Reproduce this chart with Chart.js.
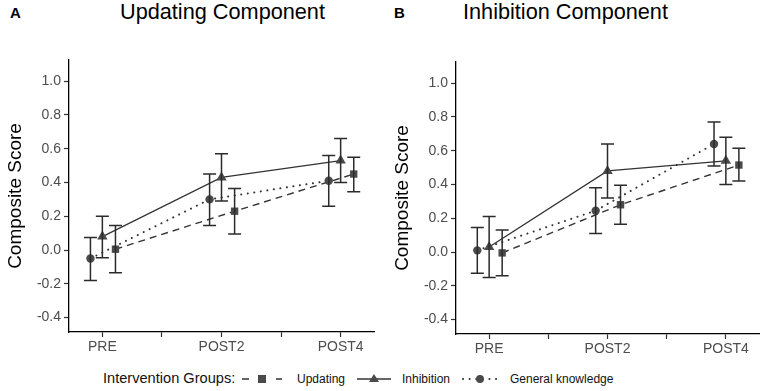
<!DOCTYPE html>
<html>
<head>
<meta charset="utf-8">
<script src="https://cdn.jsdelivr.net/npm/chart.js@4/dist/chart.umd.min.js"></script>
<style>
  body { margin: 0; background: #fff; font-family: "Liberation Sans", Arial, sans-serif; }
  #page { position: relative; width: 765px; height: 391px; overflow: hidden; }
  .box { position: absolute; }
  .lbl { position: absolute; line-height: 1; color: #000; white-space: nowrap; }
</style>
</head>
<body>
<div id="page">
  <div class="lbl" style="left:10px;top:5px;font-size:15px;font-weight:bold;">A</div>
  <div class="lbl" style="left:120px;top:1px;font-size:21.7px;">Updating Component</div>
  <div class="lbl" style="left:394px;top:5px;font-size:15px;font-weight:bold;">B</div>
  <div class="lbl" style="left:463px;top:1px;font-size:21.7px;">Inhibition Component</div>

  <div class="box" style="left:0;top:0;width:380px;height:355px;"><canvas id="chartA"></canvas></div>
  <div class="box" style="left:387px;top:2px;width:378px;height:355px;"><canvas id="chartB"></canvas></div>

  <div class="lbl" style="left:103px;top:371px;font-size:14.6px;color:#111;">Intervention Groups:</div>
  <svg class="box" style="left:240px;top:372px;" width="44" height="14">
    <line x1="2" y1="7" x2="42" y2="7" stroke="#333" stroke-width="1.4" stroke-dasharray="7 10"/>
    <rect x="18" y="3" width="8" height="8" fill="#4a4a4a"/>
  </svg>
  <div class="lbl" style="left:297px;top:373px;font-size:12px;color:#111;">Updating</div>
  <svg class="box" style="left:355px;top:372px;" width="38" height="14">
    <line x1="2" y1="7" x2="36" y2="7" stroke="#333" stroke-width="1.4"/>
    <polygon points="19,2 24,10 14,10" fill="#4a4a4a"/>
  </svg>
  <div class="lbl" style="left:402px;top:373px;font-size:12px;color:#111;">Inhibition</div>
  <svg class="box" style="left:460px;top:372px;" width="40" height="14">
    <line x1="3" y1="7" x2="38" y2="7" stroke="#333" stroke-width="2" stroke-dasharray="0.1 6.5" stroke-linecap="round"/>
    <circle cx="20" cy="7" r="4" fill="#4a4a4a"/>
  </svg>
  <div class="lbl" style="left:510px;top:373px;font-size:12px;color:#111;">General knowledge</div>
</div>

<script>
// categories and axis ticks
const categories = ['PRE', 'POST2', 'POST4'];
const yTicks = [-0.4, -0.2, 0.0, 0.2, 0.4, 0.6, 0.8, 1.0];
const xTicks = [1, 1.5, 2, 2.5, 3];

// Panel A - Updating Component (mean, lower, upper)
const updatingA = [0.005, 0.23, 0.45];
const updatingLowA = [-0.135, 0.095, 0.345];
const updatingHighA = [0.145, 0.365, 0.55];
const inhibitionA = [0.08, 0.43, 0.53];
const inhibitionLowA = [-0.045, 0.29, 0.40];
const inhibitionHighA = [0.20, 0.57, 0.66];
const generalA = [-0.05, 0.30, 0.41];
const generalLowA = [-0.18, 0.145, 0.26];
const generalHighA = [0.075, 0.45, 0.56];

// Panel B - Inhibition Component
const updatingB = [-0.005, 0.28, 0.515];
const updatingLowB = [-0.14, 0.165, 0.42];
const updatingHighB = [0.13, 0.395, 0.615];
const inhibitionB = [0.03, 0.48, 0.54];
const inhibitionLowB = [-0.15, 0.32, 0.40];
const inhibitionHighB = [0.21, 0.64, 0.68];
const generalB = [0.01, 0.245, 0.64];
const generalLowB = [-0.125, 0.11, 0.51];
const generalHighB = [0.145, 0.38, 0.77];

const lineColor = '#333333';
const markColor = '#4a4a4a';

function points(values, shift) {
  return values.map((v, i) => ({ x: i + 1 + shift, y: v }));
}

// draws the error bars from each dataset's low/high arrays via the scales
const errorBars = {
  id: 'errorBars',
  afterDatasetsDraw(chart) {
    const ctx = chart.ctx;
    const xs = chart.scales.x, ys = chart.scales.y;
    ctx.save();
    ctx.strokeStyle = '#2b2b2b';
    ctx.lineWidth = 1.5;
    chart.data.datasets.forEach(ds => {
      ds.data.forEach((p, i) => {
        const px = xs.getPixelForValue(p.x);
        const lo = ys.getPixelForValue(ds.low[i]);
        const hi = ys.getPixelForValue(ds.high[i]);
        ctx.beginPath();
        ctx.moveTo(px, lo); ctx.lineTo(px, hi);
        ctx.moveTo(px - 6.5, lo); ctx.lineTo(px + 6.5, lo);
        ctx.moveTo(px - 6.5, hi); ctx.lineTo(px + 6.5, hi);
        ctx.stroke();
      });
    });
    ctx.restore();
  }
};

function makeChart(id, upd, updLo, updHi, inh, inhLo, inhHi, gen, genLo, genHi) {
  return new Chart(document.getElementById(id), {
    type: 'scatter',
    data: {
      datasets: [
        {
          label: 'General knowledge', data: points(gen, -0.1), low: genLo, high: genHi,
          showLine: true, borderColor: lineColor, borderWidth: 2, borderDash: [0.1, 6.5],
          borderCapStyle: 'round',
          pointStyle: 'circle', pointRadius: 4.2, pointBackgroundColor: markColor, pointBorderWidth: 0
        },
        {
          label: 'Inhibition', data: points(inh, 0), low: inhLo, high: inhHi,
          showLine: true, borderColor: lineColor, borderWidth: 1.3,
          pointStyle: 'triangle', pointRadius: 6, pointBackgroundColor: markColor, pointBorderWidth: 0
        },
        {
          label: 'Updating', data: points(upd, 0.11), low: updLo, high: updHi,
          showLine: true, borderColor: lineColor, borderWidth: 1.4, borderDash: [7, 5],
          pointStyle: 'rect', pointRadius: 5.2, pointBackgroundColor: markColor, pointBorderWidth: 0
        }
      ]
    },
    options: {
      responsive: true,
      maintainAspectRatio: false,
      animation: false,
      layout: { padding: { top: 60, right: 4, left: 0, bottom: 0 } },
      plugins: { legend: { display: false }, tooltip: { enabled: false } },
      scales: {
        x: {
          type: 'linear', min: 0.72, max: 3.28,
          afterBuildTicks: s => { s.ticks = xTicks.map(v => ({ value: v })); },
          afterFit: s => { s.height = 23; },
          ticks: {
            autoSkip: false, maxRotation: 0, padding: 2,
            color: '#4d4d4d', font: { size: 14, family: '"Liberation Sans", Arial' },
            callback: v => Number.isInteger(v) ? categories[v - 1] : ''
          },
          grid: { drawOnChartArea: false, drawTicks: true, tickLength: 5, tickColor: '#333', tickWidth: 1.2 },
          border: { display: true, color: '#000', width: 1.3 }
        },
        y: {
          min: -0.485, max: 1.125,
          afterBuildTicks: s => { s.ticks = yTicks.map(v => ({ value: v })); },
          afterFit: s => { s.width = 69; },
          ticks: {
            padding: 3, color: '#4d4d4d', font: { size: 14, family: '"Liberation Sans", Arial' },
            callback: v => Math.abs(v) < 1e-9 ? '0.0' : v.toFixed(1)
          },
          grid: { drawOnChartArea: false, drawTicks: true, tickLength: 5, tickColor: '#333', tickWidth: 1.2 },
          border: { display: true, color: '#000', width: 1.3 },
          title: {
            display: true, text: 'Composite Score', color: '#000',
            font: { size: 19, family: '"Liberation Sans", Arial' },
            padding: { top: 4, bottom: 0 }
          }
        }
      }
    },
    plugins: [errorBars]
  });
}

makeChart('chartA', updatingA, updatingLowA, updatingHighA, inhibitionA, inhibitionLowA, inhibitionHighA, generalA, generalLowA, generalHighA);
makeChart('chartB', updatingB, updatingLowB, updatingHighB, inhibitionB, inhibitionLowB, inhibitionHighB, generalB, generalLowB, generalHighB);
</script>
</body>
</html>
